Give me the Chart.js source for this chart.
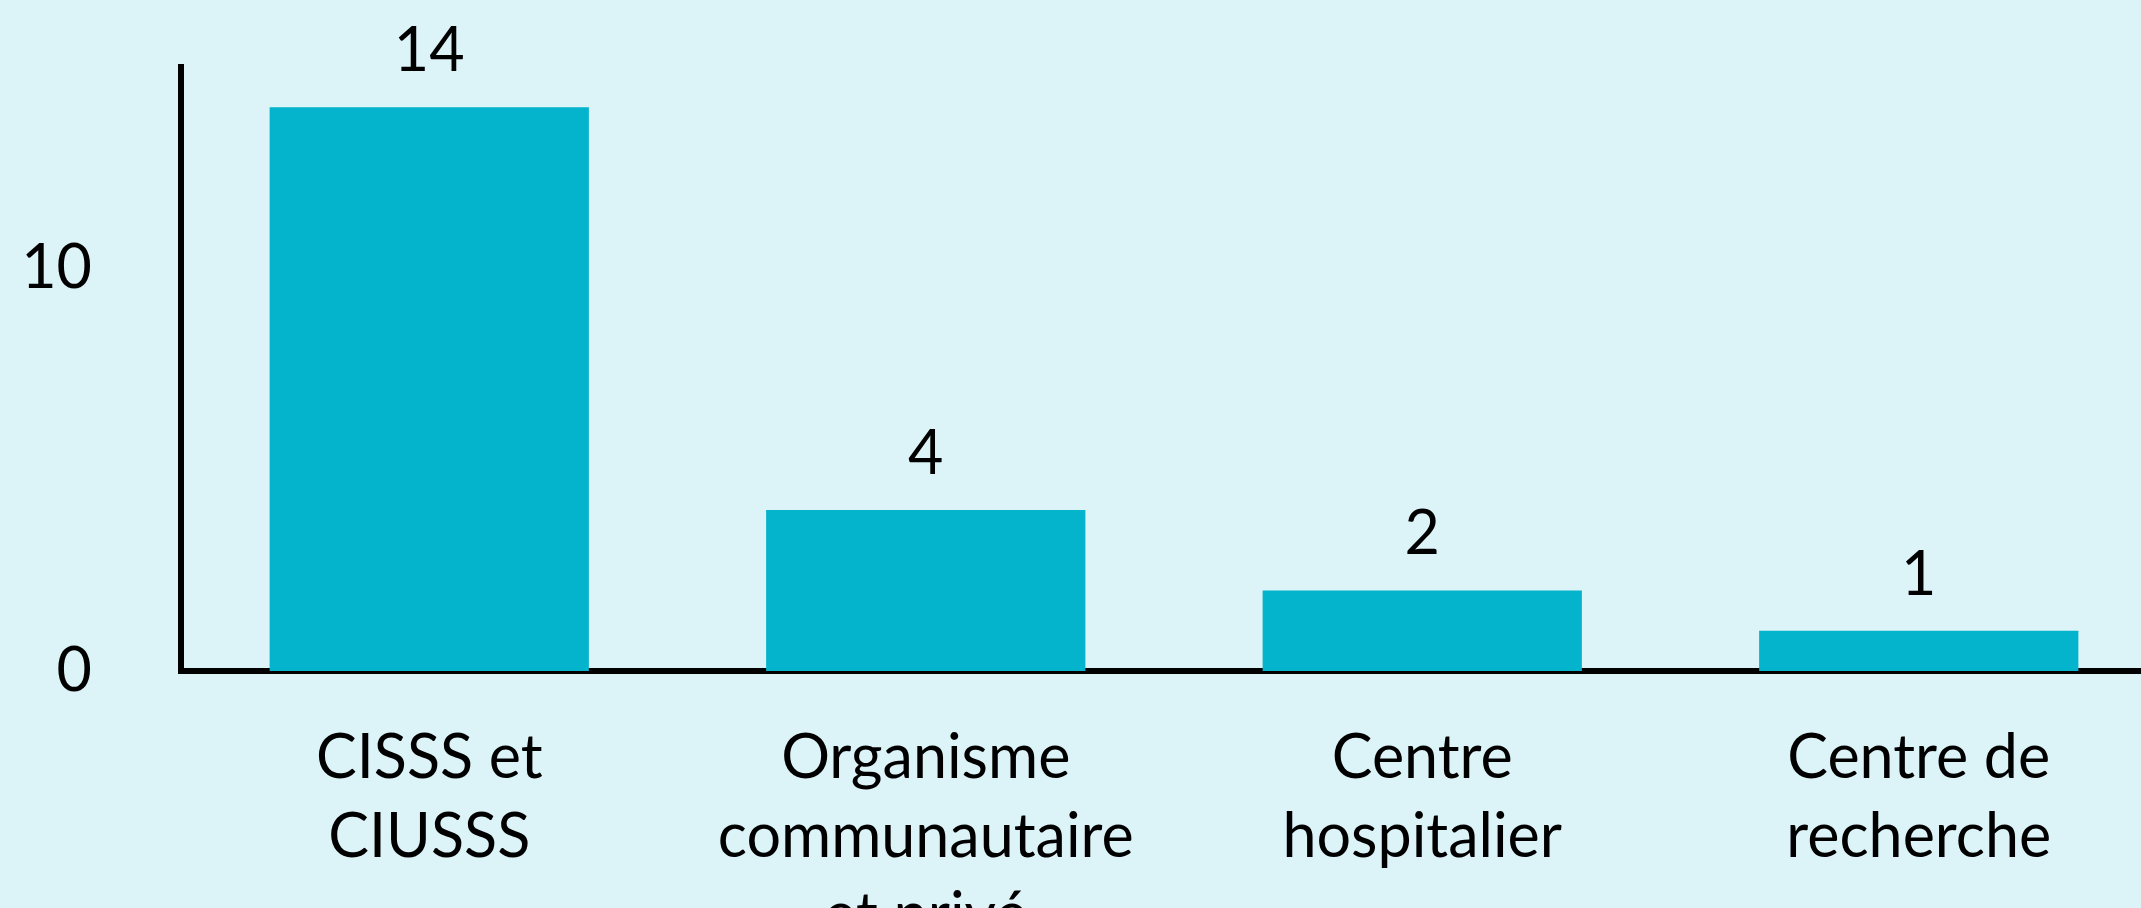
<!DOCTYPE html>
<html>
<head>
<meta charset="utf-8">
<script src="https://cdn.jsdelivr.net/npm/chart.js@4.4.1/dist/chart.umd.min.js"></script>
<style>
html, body { margin: 0; padding: 0; overflow: hidden; background: #DCF3F8; width: 2141px; height: 908px; }
#wrap { position: absolute; left: 0; top: 0; width: 2167px; height: 1000px; }
canvas { display: block; }
</style>
</head>
<body>
<div id="wrap"><canvas id="c" width="2167" height="1000"></canvas></div>
<script>
const categories = [
  ["CISSS et", "CIUSSS"],
  ["Organisme", "communautaire", "et privé"],
  ["Centre", "hospitalier"],
  ["Centre de", "recherche"]
];
const values = [14, 4, 2, 1];
const yTicks = [0, 10];
const yMin = 0;
const yMax = 15;

const BG = '#DCF3F8';
const BAR = '#04B3CC';
const FONT = { family: 'Lato', size: 61, lineHeight: 1.295 };

const bgPlugin = {
  id: 'bg',
  beforeDraw(chart) {
    const ctx = chart.ctx;
    ctx.save();
    ctx.fillStyle = BG;
    ctx.fillRect(0, 0, chart.width, chart.height);
    ctx.restore();
  }
};

const valuePlugin = {
  id: 'vals',
  afterDatasetsDraw(chart) {
    const ctx = chart.ctx;
    const meta = chart.getDatasetMeta(0);
    ctx.save();
    ctx.font = FONT.size + 'px ' + FONT.family;
    ctx.fillStyle = '#000';
    ctx.textAlign = 'center';
    ctx.textBaseline = 'alphabetic';
    meta.data.forEach((bar, i) => {
      ctx.fillText(String(values[i]), bar.x, bar.y - 36);
    });
    ctx.restore();
  }
};

new Chart(document.getElementById('c'), {
  type: 'bar',
  data: {
    labels: categories,
    datasets: [{
      data: values,
      backgroundColor: BAR,
      borderWidth: 0,
      categoryPercentage: 1,
      barPercentage: 0.643
    }]
  },
  options: {
    responsive: false,
    animation: false,
    events: [],
    layout: { padding: { top: 67, left: 0, right: 0, bottom: 0 } },
    plugins: { legend: { display: false }, tooltip: { enabled: false } },
    scales: {
      x: {
        grid: { display: false, drawTicks: false },
        border: { display: true, color: '#000', width: 6 },
        ticks: { font: FONT, color: '#000', padding: 48, maxRotation: 0, minRotation: 0, autoSkip: false },
        afterFit(s) { s.height = 329; s.paddingLeft = 0; s.paddingRight = 0; }
      },
      y: {
        min: yMin,
        max: yMax,
        grid: { display: false, drawTicks: false },
        border: { display: true, color: '#000', width: 6 },
        ticks: { font: FONT, color: '#000', padding: 89 },
        afterBuildTicks(s) { s.ticks = yTicks.map(v => ({ value: v })); },
        afterFit(s) { s.width = 181; s.paddingTop = 0; s.paddingBottom = 0; }
      }
    }
  },
  plugins: [bgPlugin, valuePlugin]
});
</script>
</body>
</html>
